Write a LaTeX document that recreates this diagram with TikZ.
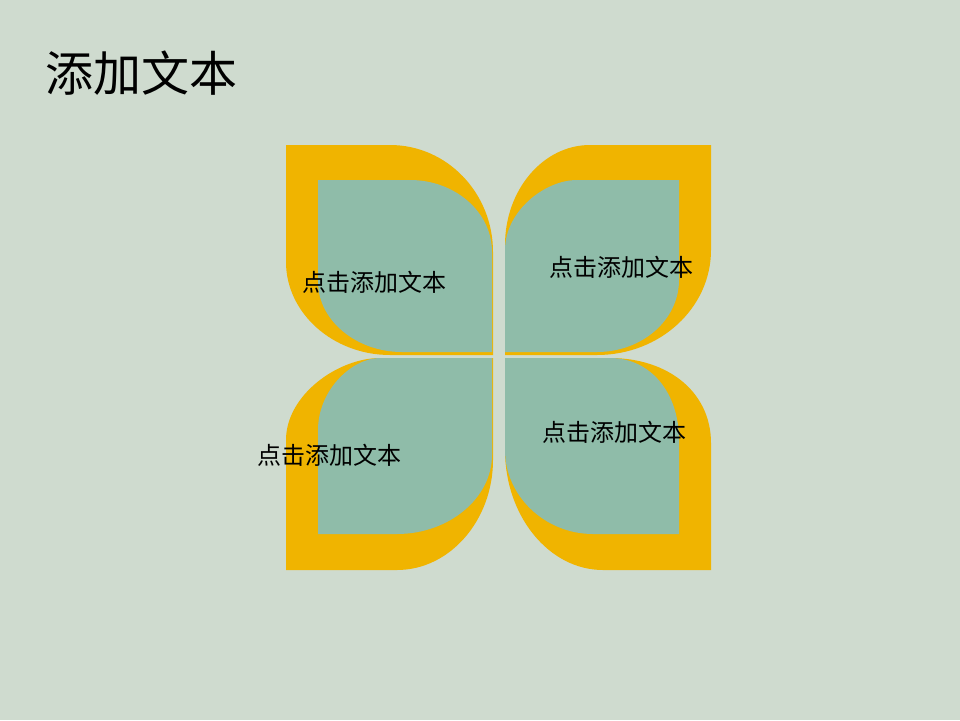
\documentclass[tikz,border=0pt]{standalone}
\usepackage{fontspec}
\newfontfamily\cjk{Noto Sans CJK SC}
\definecolor{bg}{RGB}{207,219,207}
\definecolor{petal}{RGB}{240,180,0}
\definecolor{inner}{RGB}{143,188,169}
\begin{document}
\begin{tikzpicture}[x=1pt,y=-1pt,
  outerleaf/.style={fill=petal},
  innerleaf/.style={fill=inner},
  lbl/.style={font=\cjk\fontsize{24}{28}\selectfont, inner sep=0pt, text=black}]
\fill[bg] (0,0) rectangle (960,720);
\useasboundingbox (0,0) rectangle (960,720);
\node[anchor=west, inner sep=0pt, font=\cjk\fontsize{48}{56}\selectfont] (title) at (45,73) {添加文本};
% top-left
\fill[outerleaf] (286,145) -- (390,145) .. controls (447,145) and (493,193) .. (493,252) -- (493,355) -- (390,355) .. controls (333,355) and (286,313) .. (286,262) -- cycle;
\fill[innerleaf] (318,180) -- (410,180) .. controls (455,180) and (492,212) .. (492,252) -- (492,352) -- (402,352) .. controls (356,352) and (318,320) .. (318,282) -- cycle;
% top-right
\fill[outerleaf] (711,145) -- (711,250) .. controls (711,308) and (660,355) .. (597,355) -- (505,355) -- (505,245) .. controls (505,190) and (543,145) .. (590,145) -- cycle;
\fill[innerleaf] (679,180) -- (679,280) .. controls (679,320) and (642,352) .. (597,352) -- (505,352) -- (505,250) .. controls (505,211) and (545,180) .. (577,180) -- cycle;
% bottom-left
\fill[outerleaf] (286,570) -- (286,440) .. controls (286,395) and (338,358) .. (380,358) -- (493,358) -- (493,460) .. controls (493,520) and (450,570) .. (397,570) -- cycle;
\fill[innerleaf] (318,534) -- (318,430) .. controls (318,390) and (352,358) .. (380,358) -- (492,358) -- (492,455) .. controls (492,498) and (449,534) .. (397,534) -- cycle;
% bottom-right
\fill[outerleaf] (711,570) -- (603,570) .. controls (549,570) and (505,516) .. (505,450) -- (505,358) -- (610,358) .. controls (668,358) and (711,392) .. (711,443) -- cycle;
\fill[innerleaf] (679,534) -- (593,534) .. controls (545,534) and (505,496) .. (505,450) -- (505,358) -- (610,358) .. controls (650,358) and (679,392) .. (679,440) -- cycle;
% labels
\node[lbl] (t1) at (374.5,282) {点击添加文本};
\node[lbl] (t2) at (621.5,267) {点击添加文本};
\node[lbl] (t3) at (329.5,455) {点击添加文本};
\node[lbl] (t4) at (614,432) {点击添加文本};
\end{tikzpicture}
\end{document}
